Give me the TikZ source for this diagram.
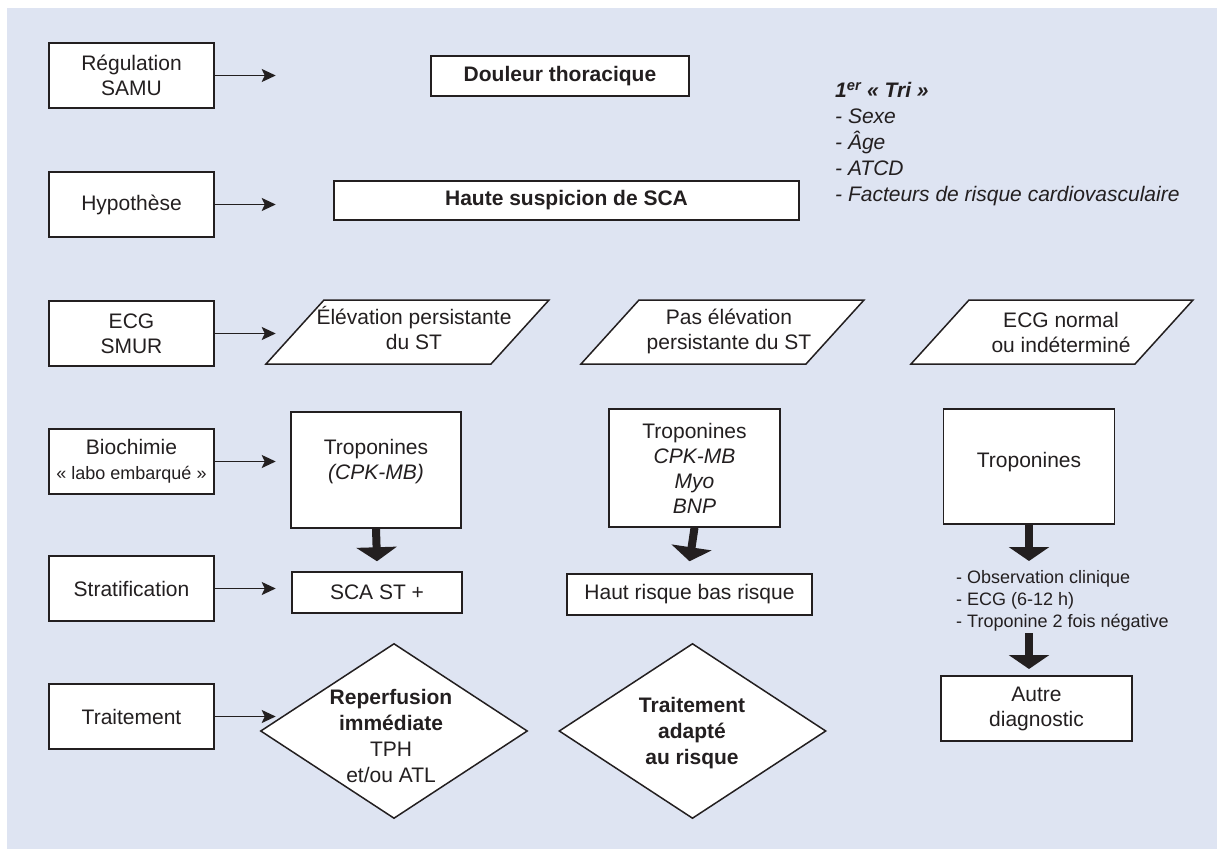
\documentclass[tikz,border=0pt]{standalone}
\usepackage{fontspec}
\setmainfont{Liberation Sans}
\usepackage{tikz}
\usetikzlibrary{arrows.meta}
\usetikzlibrary{shapes.geometric}

\definecolor{fondbleu}{RGB}{222,228,242}
\definecolor{encre}{RGB}{35,31,32}
\newcommand{\txtnorm}{\fontsize{21}{25}\selectfont}
\newcommand{\txtpetit}{\fontsize{18}{22}\selectfont}

\begin{document}
\begin{tikzpicture}[x=1pt, y=-1pt,
    every node/.style={text=encre, font=\txtnorm},
    boite/.style={draw=encre, line width=1.5pt, fill=white, align=center, inner sep=0pt},
    gauche/.style={boite, minimum width=165pt, minimum height=65pt},
    fleche/.style={draw=encre, line width=1.8pt, -{Stealth[length=14pt, width=13pt, inset=3pt]}},
    grosse/.style={draw=encre, line width=8pt, -{Triangle[length=14pt, width=40pt]}},
    losange/.style={diamond, draw=encre, line width=1.5pt, fill=white, inner sep=0pt, minimum width=267pt, minimum height=175pt},
    para/.style={draw=encre, line width=1.5pt, fill=white, line join=miter},
    texte/.style={align=center, inner sep=0pt}]
          \useasboundingbox (0,0) rectangle (1217,850);
          \fill [fondbleu] (7,8) rectangle (1217,849); % Draws the background

          % left column
          \node [gauche] (regul) at (131.5,75.5) {Régulation\\SAMU};
          \node [gauche] (hypo) at (131.5,204.5) {Hypothèse};
          \node [gauche] (ecg) at (131.5,333.5) {ECG\\SMUR};
          \node [gauche] (bio) at (131.5,461.5) {Biochimie\\{\txtpetit « labo embarqué »}};
          \node [gauche] (strat) at (131.5,588.5) {Stratification};
          \node [gauche] (trait) at (131.5,716.5) {Traitement};

          \draw [fleche] (regul.east) -- ([xshift=61pt]regul.east);
          \draw [fleche] (hypo.east) -- ([xshift=61pt]hypo.east);
          \draw [fleche] (ecg.east) -- ([xshift=61pt]ecg.east);
          \draw [fleche] (bio.east) -- ([xshift=61pt]bio.east);
          \draw [fleche] (strat.east) -- ([xshift=61pt]strat.east);
          \draw [fleche] (trait.east) -- ([xshift=61pt]trait.east);

          \node [boite, minimum width=258pt, minimum height=40pt, font=\bfseries\txtnorm] (douleur) at (560,76) {Douleur thoracique};
          \node [boite, minimum width=465pt, minimum height=39pt, font=\bfseries\txtnorm] (suspicion) at (566.5,200.5) {Haute suspicion de SCA};

          \node [texte, anchor=north west, align=left, font=\itshape\fontsize{21}{26}\selectfont] (tri) at (835,82) {\textbf{1\textsuperscript{er} « Tri »}\\- Sexe\\- Âge\\- ATCD\\- Facteurs de risque cardiovasculaire};

          % ECG row
          \draw [para] (266,364) -- (324,300) -- (549,300) -- (491,364) -- cycle; % Draws a parallelogram
          \node [texte] (elevation) at (414,328) {Élévation persistante\\du ST};
          \draw [para] (581,364) -- (639,300) -- (864,300) -- (806,364) -- cycle; % Draws a parallelogram
          \node [texte] (paselevation) at (729,331) {Pas élévation\\persistante du ST};
          \draw [para] (911,364) -- (969,300) -- (1193,300) -- (1135,364) -- cycle; % Draws a parallelogram
          \node [texte] (ecgnormal) at (1061,332) {ECG normal\\ou indéterminé};

          % troponines
          \node [boite, minimum width=170pt, minimum height=116pt] (trop1) at (376,470) {};
          \node [texte] (trop1txt) at (376,462) {Troponines\\\textit{(CPK-MB)}};
          \node [boite, minimum width=171pt, minimum height=118pt] (trop2) at (694.5,468) {Troponines\\\textit{CPK-MB}\\\textit{Myo}\\\textit{BNP}};
          \node [boite, minimum width=171pt, minimum height=115pt] (trop3) at (1029,466.5) {};
          \node [texte, anchor=base] (trop3txt) at (1029,467) {Troponines};

          % stratification
          \node [boite, minimum width=170pt, minimum height=41pt] (sca) at (377,592.5) {SCA ST +};
          \node [boite, minimum width=245pt, minimum height=41pt] (risque) at (689.5,594.5) {Haut risque bas risque};
          \node [texte, anchor=north west, align=left, font=\txtpetit] (obs) at (956,570) {- Observation clinique\\- ECG (6-12 h)\\- Troponine 2 fois négative};
          \node [boite, minimum width=191pt, minimum height=65pt] (autre) at (1036.5,708.5) {Autre\\diagnostic};

          \coordinate (obsin) at (1029,561);
          \coordinate (obsout) at (1029,633);
          \coordinate (autrein) at (1029,669);

          \draw [grosse] (trop1.south) -- ([yshift=10pt]sca.north);
          \draw [grosse] (trop2.south) -- ([yshift=12pt]risque.north);
          \draw [grosse] (trop3.south) -- (obsin);
          \draw [grosse] (obsout) -- (autrein);

          % traitement
          \node [losange] (reperfusion) at (394,731) {};
          \node [texte, font=\fontsize{21}{26}\selectfont] (reperfusiontxt) at (391,736) {\textbf{Reperfusion}\\\textbf{immédiate}\\TPH\\et/ou ATL};
          \node [losange] (adapte) at (692.5,731) {};
          \node [texte, font=\bfseries\fontsize{21}{26}\selectfont] (adaptetxt) at (692,733) {Traitement\\adapté\\au risque};
        \end{tikzpicture}
\end{document}
